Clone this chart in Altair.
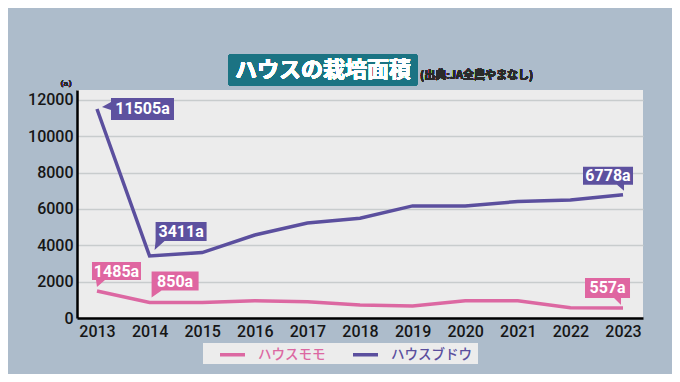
import altair as alt
import pandas as pd

# ---------------- data ----------------
years = list(range(2013, 2024))
momo = [1485, 850, 850, 950, 900, 720, 660, 950, 950, 560, 557]
budou = [11505, 3411, 3600, 4570, 5230, 5490, 6170, 6170, 6410, 6500, 6778]
series_names = ["ハウスモモ", "ハウスブドウ"]
series_colors = ["#dc68a2", "#5b4f9e"]
y_ticks = [0, 2000, 4000, 6000, 8000, 10000, 12000]

label_series = ["ハウスブドウ", "ハウスブドウ", "ハウスブドウ", "ハウスモモ", "ハウスモモ", "ハウスモモ"]
label_years = [2013, 2014, 2023, 2013, 2014, 2023]
label_values = [11505, 3411, 6778, 1485, 850, 557]
label_texts = ["11505a", "3411a", "6778a", "1485a", "850a", "557a"]

title_text = "ハウスの栽培面積"
source_text = "(出典:JA全農やまなし)"
unit_text = "(a)"

# ---------------- styles ----------------
box_colors = {"ハウスモモ": "#df66a1", "ハウスブドウ": "#5d519f"}
# callout shapes (pixel paths relative to the data point) and text centres
callout_paths = [
    "M5,-2L14,-7L14,-11L77,-11L77,11L14,11L14,1Z",
    "M5,-6L6,-15L6,-34L57,-34L57,-15L15,-15Z",
    "M1,-4L-6,-10L-40,-10L-40,-28L10,-28L10,-10L1,-10Z",
    "M0,-4L-1,-11L-5,-11L-5,-29L44,-29L44,-11L8,-11Z",
    "M2,-5L2,-12L2,-31L49,-31L49,-12L12,-12Z",
    "M-2,-3L-9,-10L-38,-10L-38,-30L7,-30L7,-10L-2,-10Z",
]
text_offsets = [(45.5, 0), (31.5, -24.5), (-15, -19), (19.5, -20), (25.5, -21.5), (-15.5, -20)]

W, H = 566, 228

lines_df = pd.DataFrame(
    {"year": years * 2,
     "value": momo + budou,
     "series": [series_names[0]] * len(years) + [series_names[1]] * len(years)}
)
labels_df = pd.DataFrame(
    {"year": label_years, "value": label_values, "series": label_series,
     "text": label_texts, "path": callout_paths,
     "box": [box_colors[s] for s in label_series]}
)

x_scale = alt.Scale(domain=[2012.62, 2023.38], nice=False, zero=False)
y_scale = alt.Scale(domain=[0, 12550], nice=False)

x_axis = alt.Axis(values=years, format="d", title=None, grid=False,
                  labelFontSize=16, labelFont="Roboto", labelFontWeight=500,
                  labelColor="#161616", labelPadding=5, tickSize=0,
                  labelOverlap=False, domainColor="#000000", domainWidth=2.5)
y_axis = alt.Axis(values=y_ticks, format="d", title=None, grid=True,
                  gridColor="#c8cccd", labelOverlap=False,
                  gridWidth=1.6, labelFontSize=16, labelFont="Roboto",
                  labelFontWeight=500, labelColor="#161616", labelPadding=4,
                  tickSize=0, domainColor="#000000", domainWidth=2.5)
base_x = alt.X("year:Q", scale=x_scale, axis=x_axis)
base_y = alt.Y("value:Q", scale=y_scale, axis=y_axis)

legend_box = alt.Chart(lines_df).mark_rect(color="#ececec").encode(
    x=alt.value(126), x2=alt.value(401), y=alt.value(253), y2=alt.value(274)
)

lines = alt.Chart(lines_df).mark_line(strokeWidth=3.5).encode(
    x=base_x,
    y=base_y,
    color=alt.Color("series:N",
                    scale=alt.Scale(domain=series_names, range=series_colors),
                    legend=alt.Legend(
                        title=None, orient="none", legendX=141, legendY=250,
                        direction="horizontal", padding=0,
                        symbolType="stroke", symbolStrokeWidth=3.5, symbolSize=625,
                        labelFont="Noto Sans CJK JP", labelFontSize=13.5,
                        labelFontWeight=500, columnPadding=20, symbolOffset=0,
                        labelOffset=11,
                        labelColor=alt.expr(
                            f"datum.label == '{series_names[0]}' ? '{series_colors[0]}' : '{series_colors[1]}'"),
                    )),
    detail="series:N",
)

callouts = alt.Chart(labels_df).mark_point(filled=True, opacity=1, strokeWidth=0, size=4).encode(
    x=base_x,
    y=base_y,
    shape=alt.Shape("path:N", scale=None),
    fill=alt.Fill("box:N", scale=None),
)

text_layers = []
for i, t in enumerate(label_texts):
    dx, dy = text_offsets[i]
    text_layers.append(
        alt.Chart(labels_df).transform_filter(alt.datum.text == t).mark_text(
            dx=dx, dy=dy + 0.5, color="white", font="Roboto", fontWeight="bold",
            fontSize=16, align="center", baseline="middle",
        ).encode(x=base_x, y=base_y, text="text:N")
    )

title_box = alt.Chart(lines_df).mark_rect(color="#1b7383", cornerRadius=4).encode(
    x=alt.value(151), x2=alt.value(341), y=alt.value(-36), y2=alt.value(-4)
)
title = alt.Chart(lines_df).mark_text(
    text=title_text, color="white", font="Noto Sans CJK JP", fontWeight="bold",
    fontSize=22, align="center", baseline="middle"
).encode(x=alt.value(246), y=alt.value(-20))
source = alt.Chart(lines_df).mark_text(
    text=source_text, color="#2a2a2a", font="Noto Sans CJK JP", fontWeight="bold",
    fontSize=11, align="left", baseline="middle"
).encode(x=alt.value(343), y=alt.value(-14))
unit = alt.Chart(lines_df).mark_text(
    text=unit_text, color="#2a2a2a", font="DejaVu Serif", fontSize=8,
    align="center", baseline="middle"
).encode(x=alt.value(-11), y=alt.value(-6))

chart = alt.layer(
    legend_box, lines, callouts, *text_layers, title_box, title, source, unit
).properties(
    width=W, height=H,
    autosize=alt.AutoSizeParams(type="none"),
    padding={"left": 69, "top": 82, "right": 29, "bottom": 56},
    background="#adbccb",
).configure_view(fill="#ececec", stroke=None)

chart.save("out.html", embed_options={"renderer": "svg", "actions": False})
